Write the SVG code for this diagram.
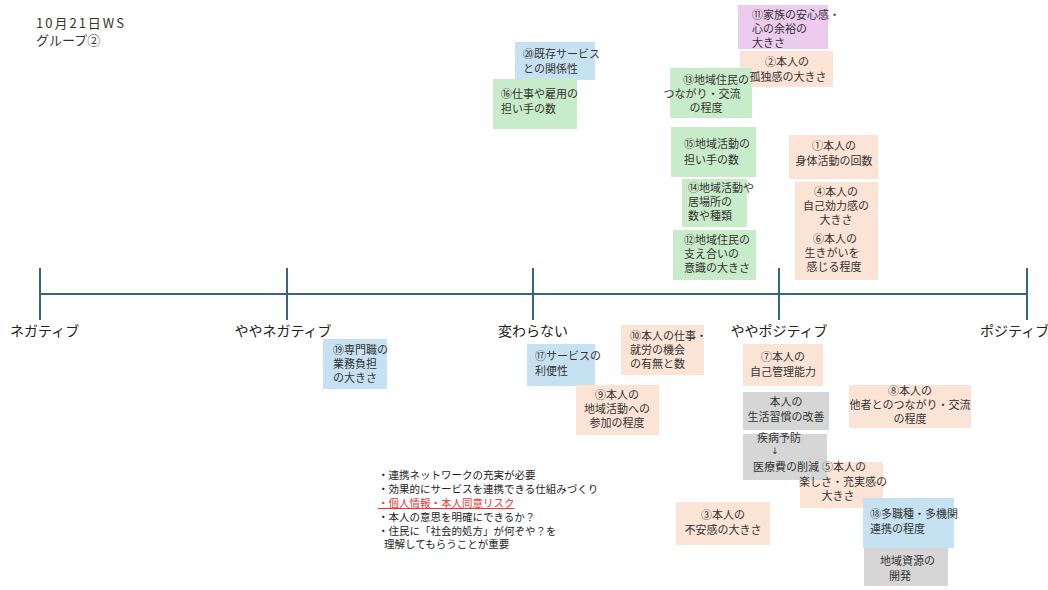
<svg xmlns="http://www.w3.org/2000/svg" width="1048" height="590" viewBox="0 0 1048 590">
<style>
text{font-family:"Noto Sans CJK JP","Noto Sans",sans-serif;fill:#333;}
.t{font-size:11px;}
.m{text-anchor:middle;}
.ax{font-size:14px;fill:#222;}
.ttl{font-size:13px;fill:#333;}
.note{font-size:10.5px;fill:#222;}
.blue{fill:#C6E2F2;}
.green{fill:#C8EBCA;}
.peach{fill:#FBE3D6;}
.purple{fill:#EDCBEF;}
.gray{fill:#D6D6D6;}
.axis line{stroke:#356580;stroke-width:2;}
</style>
<rect width="1048" height="590" fill="#fff"/>
<g id="title">
<text class="ttl" x="36" y="28" letter-spacing="2">10月21日WS</text>
<text class="ttl" x="36" y="45">グループ②</text>
</g>
<g id="axis" class="axis">
<line x1="40" y1="294" x2="1028" y2="294"/>
<line x1="40" y1="268" x2="40" y2="320"/>
<line x1="287" y1="268" x2="287" y2="320"/>
<line x1="533" y1="268" x2="533" y2="320"/>
<line x1="779" y1="268" x2="779" y2="320"/>
<line x1="1027" y1="268" x2="1027" y2="320"/>
</g>
<g id="axis-labels">
<text class="ax" x="10" y="336">ネガティブ</text>
<text class="ax m" x="283" y="336">ややネガティブ</text>
<text class="ax m" x="533" y="336">変わらない</text>
<text class="ax m" x="779" y="336">ややポジティブ</text>
<text class="ax" x="980" y="336">ポジティブ</text>
</g>
<g id="n20"><rect class="blue" x="515" y="42" width="80" height="38"/>
<text class="t" x="523" y="58">⑳既存サービス</text><text class="t" x="523" y="73">との関係性</text></g>
<g id="n16"><rect class="green" x="493" y="79" width="84" height="50"/>
<text class="t" x="501" y="98">⑯仕事や雇用の</text><text class="t" x="501" y="113">担い手の数</text></g>
<g id="n11"><rect class="purple" x="738" y="5" width="90" height="44"/>
<text class="t" x="752" y="19">⑪家族の安心感・</text><text class="t" x="752" y="33">心の余裕の</text><text class="t" x="752" y="47">大きさ</text></g>
<g id="n13"><rect class="green" x="670" y="68" width="82" height="50"/>
<text class="t m" x="716" y="84">⑬地域住民の</text><text class="t m" x="702" y="98">つながり・交流</text><text class="t m" x="706" y="112">の程度</text></g>
<g id="n2"><path class="peach" d="M740,51 H833 V87 H752 V68 H740 Z"/>
<text class="t m" x="787" y="66">②本人の</text><text class="t m" x="788" y="81">孤独感の大きさ</text></g>
<g id="n15"><rect class="green" x="671" y="127" width="85" height="50"/>
<text class="t" x="684" y="148">⑮地域活動の</text><text class="t" x="684" y="164">担い手の数</text></g>
<g id="n1"><rect class="peach" x="789" y="135" width="89" height="44"/>
<text class="t m" x="834" y="150">①本人の</text><text class="t m" x="834" y="165">身体活動の回数</text></g>
<g id="n14"><rect class="green" x="682" y="179" width="65" height="48"/>
<text class="t" x="688" y="192">⑭地域活動や</text><text class="t" x="688" y="206">居場所の</text><text class="t" x="688" y="220">数や種類</text></g>
<g id="n4"><rect class="peach" x="795" y="182" width="83" height="48"/>
<text class="t m" x="836" y="196">④本人の</text><text class="t m" x="836" y="210">自己効力感の</text><text class="t m" x="836" y="224">大きさ</text></g>
<g id="n6"><rect class="peach" x="795" y="230" width="83" height="50"/>
<text class="t m" x="835" y="243">⑥本人の</text><text class="t m" x="832" y="257">生きがいを</text><text class="t m" x="834" y="271">感じる程度</text></g>
<g id="n12"><rect class="green" x="673" y="230" width="83" height="50"/>
<text class="t" x="684" y="244">⑫地域住民の</text><text class="t" x="684" y="258">支え合いの</text><text class="t" x="684" y="272">意識の大きさ</text></g>
<g id="n19"><rect class="blue" x="323" y="339" width="64" height="50"/>
<text class="t" x="333" y="354">⑲専門職の</text><text class="t" x="333" y="368">業務負担</text><text class="t" x="333" y="382">の大きさ</text></g>
<g id="n17"><rect class="blue" x="527" y="344" width="68" height="42"/>
<text class="t" x="535" y="360">⑰サービスの</text><text class="t" x="535" y="375">利便性</text></g>
<g id="n10"><rect class="peach" x="621" y="325" width="83" height="50"/>
<text class="t" x="630" y="340">⑩本人の仕事・</text><text class="t" x="630" y="354">就労の機会</text><text class="t" x="630" y="368">の有無と数</text></g>
<g id="n9"><rect class="peach" x="576" y="385" width="83" height="50"/>
<text class="t m" x="617" y="399">⑨本人の</text><text class="t m" x="617" y="413">地域活動への</text><text class="t m" x="617" y="427">参加の程度</text></g>
<g id="n7"><rect class="peach" x="743" y="344" width="80" height="42"/>
<text class="t m" x="783" y="361">⑦本人の</text><text class="t m" x="783" y="376">自己管理能力</text></g>
<g id="g1"><rect class="gray" x="743" y="392" width="86" height="38"/>
<text class="t m" x="786" y="406">本人の</text><text class="t m" x="786" y="421">生活習慣の改善</text></g>
<g id="n8"><rect class="peach" x="849" y="385" width="122" height="43"/>
<text class="t m" x="910" y="395">⑧本人の</text><text class="t m" x="910" y="409">他者とのつながり・交流</text><text class="t m" x="910" y="423">の程度</text></g>
<g id="g2"><rect class="gray" x="743" y="434" width="84" height="46"/>
<text class="t m" x="779" y="442">疾病予防</text><text class="m" x="775" y="454" font-size="9" style="font-family:'DejaVu Sans',sans-serif">↓</text><text class="t" x="753" y="471">医療費の削減</text></g>
<g id="n5"><path class="peach" d="M800,480 H827 V462 H883 V508 H800 Z"/>
<text class="t" x="822" y="471">⑤本人の</text><text class="t m" x="843" y="486">楽しさ・充実感の</text><text class="t m" x="838" y="500">大きさ</text></g>
<g id="n3"><rect class="peach" x="676" y="502" width="94" height="43"/>
<text class="t m" x="723" y="519">③本人の</text><text class="t m" x="723" y="534">不安感の大きさ</text></g>
<g id="n18"><rect class="blue" x="863" y="498" width="91" height="50"/>
<text class="t" x="870" y="518">⑱多職種・多機関</text><text class="t" x="870" y="533">連携の程度</text></g>
<g id="g3"><rect class="gray" x="864" y="548" width="84" height="38"/>
<text class="t" x="880" y="565">地域資源の</text><text class="t" x="889" y="580">開発</text></g>
<g id="notes">
<text class="note" x="378" y="479">・連携ネットワークの充実が必要</text>
<text class="note" x="378" y="493">・効果的にサービスを連携できる仕組みづくり</text>
<text class="note" x="378" y="507" style="fill:#E53935" text-decoration="underline">・個人情報・本人同意リスク</text>
<text class="note" x="378" y="521">・本人の意思を明確にできるか？</text>
<text class="note" x="378" y="535">・住民に「社会的処方」が何ぞや？を</text>
<text class="note" x="384" y="548">理解してもらうことが重要</text>
</g>
</svg>
